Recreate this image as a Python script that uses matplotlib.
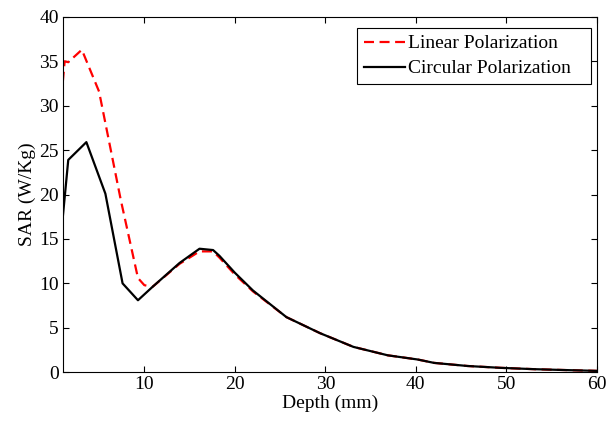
import matplotlib
matplotlib.use('Agg')
import matplotlib.pyplot as plt

# depth (mm) and SAR (W/Kg)
depth_lin = [1.0, 1.2, 1.6, 3.1, 5.0, 6.3, 7.4, 9.3, 10.0, 10.9, 13.9, 16.1, 17.6,
             18.3, 20.0, 22.0, 25.7, 29.4, 33.1, 36.9, 40.2, 42.0, 45.7, 49.4, 53.1, 56.9, 60.0]
sar_lin = [32.7, 35.0, 34.9, 36.3, 31.6, 25.0, 19.4, 10.6, 9.8, 9.6, 12.2, 13.6, 13.6,
           12.9, 11.0, 9.1, 6.2, 4.4, 2.85, 1.9, 1.43, 1.05, 0.7, 0.49, 0.34, 0.23, 0.15]

depth_circ = [1.0, 1.6, 3.6, 5.7, 7.6, 9.3, 10.9, 13.9, 16.1, 17.6,
              18.3, 20.0, 22.0, 25.7, 29.4, 33.1, 36.9, 40.2, 42.0, 45.7, 49.4, 53.1, 56.9, 60.0]
sar_circ = [17.5, 23.9, 25.9, 20.1, 10.0, 8.1, 9.6, 12.3, 13.9, 13.75,
            13.1, 11.2, 9.2, 6.2, 4.4, 2.85, 1.9, 1.43, 1.05, 0.7, 0.49, 0.34, 0.23, 0.15]

plt.rcParams['font.family'] = 'Liberation Serif'
plt.rcParams['font.size'] = 14

fig = plt.figure(figsize=(6.16, 4.22), dpi=100)
ax = fig.add_axes([0.102, 0.118, 0.867, 0.842])

ax.plot(depth_lin, sar_lin, color='r', ls='--', lw=1.6, dashes=(4.5, 2.5), label='Linear Polarization')
ax.plot(depth_circ, sar_circ, color='k', lw=1.6, label='Circular Polarization')

ax.set_xlim(1, 60)
ax.set_ylim(0, 40)
ax.set_xticks([10, 20, 30, 40, 50, 60])
ax.set_yticks(range(0, 41, 5))
ax.tick_params(direction='in', top=True, right=True, length=4, width=0.8, pad=3)
ax.set_xlabel('Depth (mm)', labelpad=1)
ax.set_ylabel('SAR (W/Kg)', labelpad=2)

# legend box stretched like the matlab one (wide right margin)
leg = ax.legend(loc='upper left', bbox_to_anchor=(0.551, 0, 0.438, 0.969), mode='expand',
                borderaxespad=0, fancybox=False, edgecolor='k', framealpha=1, borderpad=0.35,
                handlelength=2.1, handletextpad=0.15, labelspacing=0.38)
leg.get_frame().set_linewidth(0.8)

fig.savefig('out.png', dpi=100)
